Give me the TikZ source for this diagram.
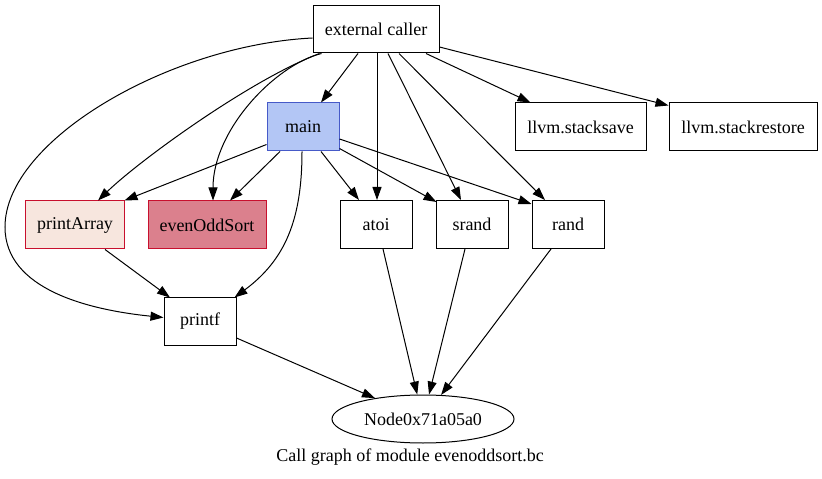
\documentclass[tikz,border=0pt]{standalone}
\usepackage{fontspec}
\setmainfont{Liberation Serif}
\usetikzlibrary{arrows.meta,shapes.geometric,calc}
\definecolor{mainfill}{RGB}{179,198,245}
\definecolor{maindraw}{RGB}{70,90,200}
\definecolor{pafill}{RGB}{247,230,222}
\definecolor{eosfill}{RGB}{219,128,141}
\definecolor{reddraw}{RGB}{200,16,46}
\begin{document}
\begin{tikzpicture}[x=1bp,y=-1bp,
  fn/.style={draw=black,line width=1bp,rectangle,minimum height=48bp,inner sep=0pt,font=\fontsize{18bp}{21bp}\selectfont},
  edge/.style={line width=1bp,-{Triangle[length=13bp,width=9bp]}}]
\useasboundingbox[fill=white] (0,0) rectangle (822,479);
% nodes
\node[fn,minimum width=126bp,minimum height=47bp] (ext) at (376,29.5) {external caller};
\node[fn,minimum width=72bp,fill=mainfill,draw=maindraw] (main) at (303,127) {main};
\node[fn,minimum width=131bp] (ssave) at (580.5,127) {llvm.stacksave};
\node[fn,minimum width=148bp] (srest) at (743,127) {llvm.stackrestore};
\node[fn,minimum width=98bp,fill=pafill,draw=reddraw] (pa) at (75,225) {printArray};
\node[fn,minimum width=118bp,fill=eosfill,draw=reddraw] (eos) at (207,225) {evenOddSort};
\node[fn,minimum width=72bp] (atoi) at (376,224.5) {atoi};
\node[fn,minimum width=72bp] (srand) at (472,224.5) {srand};
\node[fn,minimum width=72bp] (rand) at (568,224.5) {rand};
\node[fn,minimum width=72bp,minimum height=47bp] (printf) at (200,321.5) {printf};
\node[draw,ellipse,minimum width=182bp,minimum height=48bp,inner sep=0pt,line width=1bp,font=\fontsize{18bp}{21bp}\selectfont] (nd) at (423,419) {Node0x71a05a0};
\node[font=\fontsize{18bp}{21bp}\selectfont] (cap) at (410,457) {Call graph of module evenoddsort.bc};
% edges from external caller
\draw[edge] ($(ext.south)+(-18,0)$) -- ($(main.north)+(18,0)$);
\draw[edge] ($(ext.south)+(1,0)$) -- ($(atoi.north)+(1,0)$);
\draw[edge] ($(ext.south)+(12,0)$) -- ($(srand.north)+(-11,0)$);
\draw[edge] ($(ext.south)+(23,0)$) -- ($(rand.north)+(-23,0)$);
\draw[edge] ($(ext.south)+(50,0)$) -- ($(ssave.north)+(-50,0)$);
\draw[edge] ($(ext.east)+(0,17.5)$) -- ($(srest.north west)+(0,3)$);
\draw[edge] ($(ext.south west)+(7,0)$) .. controls (250,80) and (140,160) .. ($(pa.north)+(23,0)$);
\draw[edge] ($(ext.south west)+(9,0)$) .. controls (275,65) and (213,130) .. ($(eos.north)+(6,0)$);
\draw[edge] ($(ext.west)+(0,8.5)$) .. controls (170,45) and (5,140) .. (5,227)
  .. controls (5,290) and (90,310) .. ($(printf.west)+(0,-4)$);
% edges from main
\draw[edge] ($(main.south west)+(0,-7)$) -- (pa.north east);
\draw[edge] ($(main.south)+(-23,0)$) -- ($(eos.north)+(23,0)$);
\draw[edge] ($(main.south)+(-1,0)$) .. controls (302,220) and (285,260) .. ($(printf.north east)+(-2,0)$);
\draw[edge] ($(main.south)+(18,0)$) -- ($(atoi.north)+(-17,0)$);
\draw[edge] ($(main.south east)+(0,-3)$) -- ($(srand.north west)+(1,2)$);
\draw[edge] ($(main.east)+(0,12)$) -- ($(rand.north west)+(0,4)$);
% others
\draw[edge] ($(pa.south)+(30,0)$) -- ($(printf.north)+(-30,0)$);
\draw[edge] ($(atoi.south)+(7,0)$) -- (nd);
\draw[edge] ($(srand.south)+(-7,0)$) -- (nd);
\draw[edge] ($(rand.south)+(-17,0)$) -- (nd);
\draw[edge] ($(printf.east)+(0,16.5)$) -- (nd);
\end{tikzpicture}
\end{document}
